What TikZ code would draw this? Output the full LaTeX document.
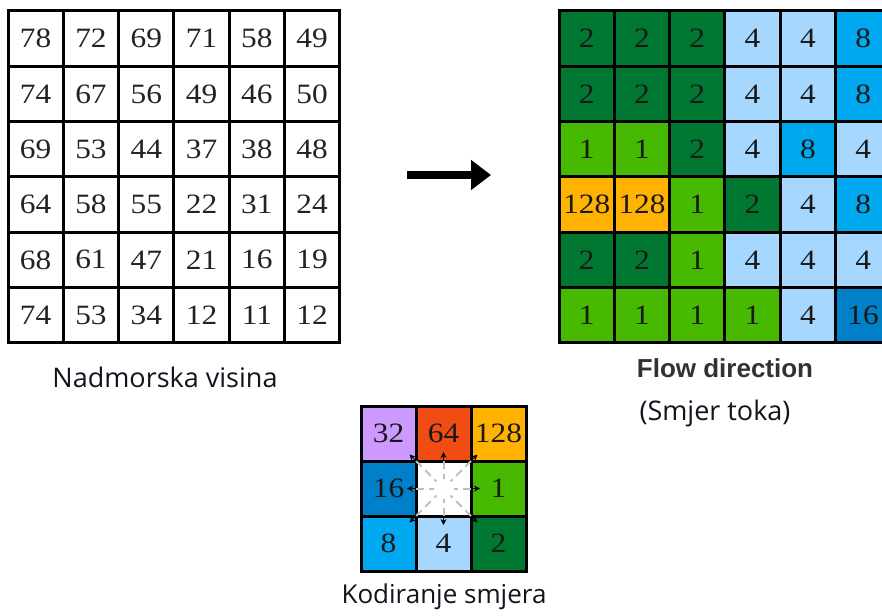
\documentclass[tikz,border=0pt]{standalone}
\usepackage{fontspec}
\usetikzlibrary{arrows.meta,calc}
\newfontfamily\numfont[FakeStretch=1.12]{Liberation Serif}
\newfontfamily\labfont{Open Sans}
\newfontfamily\headfont{Liberation Sans}
\definecolor{c1}{RGB}{70,185,0}
\definecolor{c2}{RGB}{0,120,50}
\definecolor{c4}{RGB}{165,215,255}
\definecolor{c8}{RGB}{0,168,240}
\definecolor{c16}{RGB}{0,128,200}
\definecolor{c32}{RGB}{204,153,255}
\definecolor{c64}{RGB}{240,76,20}
\definecolor{c128}{RGB}{255,178,0}
\definecolor{cw}{RGB}{255,255,255}
\definecolor{numgray}{RGB}{35,35,35}
\definecolor{labcol}{RGB}{20,20,30}
\definecolor{headcol}{RGB}{50,50,50}
\tikzset{
  cellbox/.style={draw=black, line width=3pt, minimum size=55.3pt, inner sep=0pt,
    font=\numfont\fontsize{28}{30}\selectfont, text=numgray},
  legcell/.style={cellbox, minimum size=55pt},
  caption/.style={anchor=base, inner sep=0pt, font=\labfont\fontsize{27}{30}\selectfont, text=labcol},
  heading/.style={anchor=base, inner sep=0pt, font=\headfont\bfseries\fontsize{26}{30}\selectfont, text=headcol},
  bigarrow/.style={line width=8.5pt, -{Triangle[length=20pt,width=29pt]}},
  raydash/.style={draw=gray!50, line width=2pt, dash pattern=on 8pt off 5pt},
  raytip/.style={line width=1pt, -{Stealth[length=6pt,width=6pt]}}
}
\begin{document}
\begin{tikzpicture}[x=1pt,y=-1pt]
\clip (0,0) rectangle (882,615);
\fill[white] (0,0) rectangle (882,615);
% elevation grid
\foreach \row [count=\i] in {{78,72,69,71,58,49},{74,67,56,49,46,50},{69,53,44,37,38,48},{64,58,55,22,31,24},{68,61,47,21,16,19},{74,53,34,12,11,12}}{
  \foreach \v [count=\j] in \row {
    \node[cellbox, fill=white] (L-\i-\j) at ({8+55.3*(\j-0.5)},{11+55.3*(\i-0.5)}) {\v};
  }
}
% flow direction grid
\foreach \row [count=\i] in {{2,2,2,4,4,8},{2,2,2,4,4,8},{1,1,2,4,8,4},{128,128,1,2,4,8},{2,2,1,4,4,4},{1,1,1,1,4,16}}{
  \foreach \v [count=\j] in \row {
    \node[cellbox, fill=c\v, text=black!90] (R-\i-\j) at ({559+55.3*(\j-0.5)},{11+55.3*(\i-0.5)}) {\v};
  }
}
% arrow
\coordinate (arrS) at (407,175);
\coordinate (arrE) at (491,175);
\draw[bigarrow] (arrS) -- (arrE);
% legend
\foreach \row [count=\i] in {{32/32,64/64,128/128},{16/16,w/{},1/1},{8/8,4/4,2/2}}{
  \foreach \v/\lab [count=\j] in \row {
    \node[legcell, fill=c\v, text=black!90] (K-\i-\j) at ({361+55*(\j-0.5)},{406+55*(\i-0.5)}) {\lab};
  }
}
% rays from the centre cell
\coordinate (ctr) at (K-2-2.center);
\foreach \dx/\dy/\f [count=\k] in {1/0/1,-1/0/1,0/1/1,0/-1/1,1/1/0.71,1/-1/0.71,-1/1/0.71,-1/-1/0.71}{
  \coordinate (rb\k) at ($(ctr)+(27.5*\dx,27.5*\dy)$);
  \coordinate (ri\k) at ($(ctr)+(10*\f*\dx,10*\f*\dy)$);
  \coordinate (rt\k) at ($(rb\k)+(9*\f*\dx,9*\f*\dy)$);
  \draw[raydash] (rb\k) -- (ri\k);
  \draw[raytip] (rb\k) -- (rt\k);
}
% captions
\node[caption] (capL) at (165,387) {Nadmorska visina};
\node[heading] (capR) at (725,377) {Flow direction};
\node[caption] (capR2) at (715,420) {(Smjer toka)};
\node[caption, font=\labfont\fontsize{26}{30}\selectfont] (capK) at (444,603) {Kodiranje smjera};
\end{tikzpicture}
\end{document}
